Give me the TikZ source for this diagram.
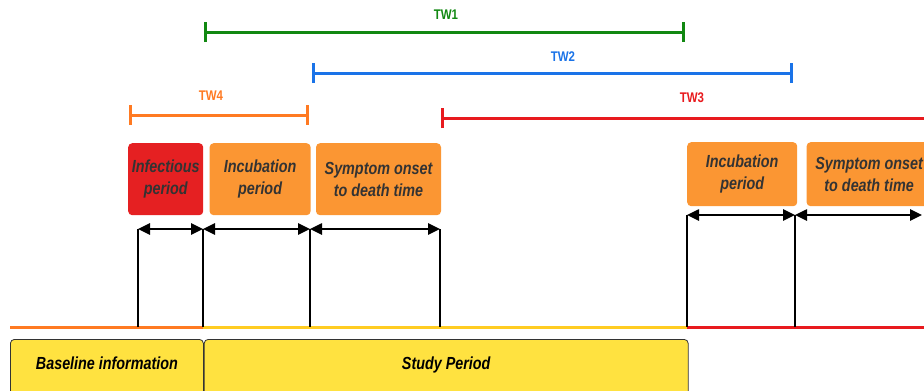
\documentclass[tikz,border=0pt]{standalone}
\usepackage{fontspec}
\setmainfont{Liberation Sans}
\newfontfamily\narrowsans[FakeStretch=0.82]{Liberation Sans}
\usetikzlibrary{arrows, arrows.meta, positioning}

\definecolor{twgreen}{RGB}{17,136,17}
\definecolor{twblue}{RGB}{26,115,232}
\definecolor{tworange}{RGB}{255,122,34}
\definecolor{twred}{RGB}{232,26,30}
\definecolor{boxorange}{RGB}{251,150,51}
\definecolor{boxred}{RGB}{229,32,34}
\definecolor{lineyellow}{RGB}{255,204,34}
\definecolor{boxyellow}{RGB}{255,226,64}
\definecolor{boxtext}{RGB}{51,51,51}

\tikzset{
  period/.style={rounded corners=4pt, inner sep=0pt, align=center,
    minimum height=72pt, text=boxtext,
    font=\narrowsans\bfseries\itshape\fontsize{17.5}{22}\selectfont},
  phase/.style={draw=black!80, line width=0.8pt, fill=boxyellow,
    rounded corners=4pt, inner xsep=0pt, inner ysep=18pt,
    text height=12pt, text depth=8pt,
    font=\narrowsans\bfseries\itshape\fontsize{17.5}{22}\selectfont},
  twlabel/.style={font=\narrowsans\bfseries\fontsize{14}{16}\selectfont},
  twbar/.style={line width=3pt},
  span/.style={line width=2.5pt,
    {Triangle[length=12pt,width=11pt]}-{Triangle[length=12pt,width=11pt]}},
  tickline/.style={line width=2pt},
  timeline/.style={line width=3pt}
}

\begin{document}
\begin{tikzpicture}[x=1pt, y=-1pt, >=latex]
\useasboundingbox (0,0) rectangle (924,391);

% time windows
\node[twlabel, text=twgreen] (tw1) at (446,15) {TW1};
\coordinate (tw1a) at (204,32);
\coordinate (tw1b) at (685,32);
\draw[twbar, twgreen, {Bar[width=20pt]}-{Bar[width=20pt]}] (tw1a) -- (tw1b);

\node[twlabel, text=twblue] (tw2) at (563,57) {TW2};
\coordinate (tw2a) at (312,73);
\coordinate (tw2b) at (793,73);
\draw[twbar, twblue, {Bar[width=20pt]}-{Bar[width=20pt]}] (tw2a) -- (tw2b);

\node[twlabel, text=tworange] (tw4) at (211,96) {TW4};
\coordinate (tw4a) at (129,115);
\coordinate (tw4b) at (309,115);
\draw[twbar, tworange, {Bar[width=20pt]}-{Bar[width=20pt]}] (tw4a) -- (tw4b);

\node[twlabel, text=twred] (tw3) at (692,98) {TW3};
\coordinate (tw3a) at (441,118);
\coordinate (tw3b) at (924,118);
\draw[twbar, twred, {Bar[width=20pt]}-] (tw3a) -- (tw3b);

% periods
\node[period, fill=boxred, minimum width=75pt, anchor=north west]
  (infect) at (128,143) {Infectious\\period};
\node[period, fill=boxorange, minimum width=101pt, right=6pt of infect]
  (incub1) {Incubation\\period};
\node[period, fill=boxorange, minimum width=125pt, right=5pt of incub1]
  (sympt1) {Symptom onset\\to death time};

\node[period, fill=boxorange, minimum width=110pt, minimum height=64pt,
  anchor=north west] (incub2) at (687,142) {Incubation\\period};
\node[period, fill=boxorange, minimum width=125pt, minimum height=64pt,
  right=9pt of incub2] (sympt2) {Symptom onset\\to death time};

% time line
\foreach \x/\n in {138/a, 203/b, 310/c, 440/d} {
  \coordinate (top\n) at (\x,229);
  \coordinate (base\n) at (\x,327);
}
\foreach \x/\n in {687/e, 795/f} {
  \coordinate (top\n) at (\x,215);
  \coordinate (base\n) at (\x,327);
}
\coordinate (topg) at (922,215);
\coordinate (start) at (10,327);
\coordinate (finish) at (924,327);

\draw[timeline, tworange] (start) -- (baseb);
\draw[timeline, lineyellow] (baseb) -- (basee);
\draw[timeline, twred] (basee) -- (finish);

\foreach \n in {a, b, c, d, e, f}
  \draw[tickline] (top\n) -- (base\n);

\draw[span] (topa) -- (topb);
\draw[span] (topb) -- (topc);
\draw[span] (topc) -- (topd);
\draw[span] (tope) -- (topf);
\draw[span] (topf) -- (topg);

% phases
\node[phase, minimum width=193pt, anchor=north west]
  (baseline) at (10,339) {Baseline information};
\node[phase, minimum width=484pt, right=0pt of baseline]
  (study) {Study Period};

\end{tikzpicture}
\end{document}
